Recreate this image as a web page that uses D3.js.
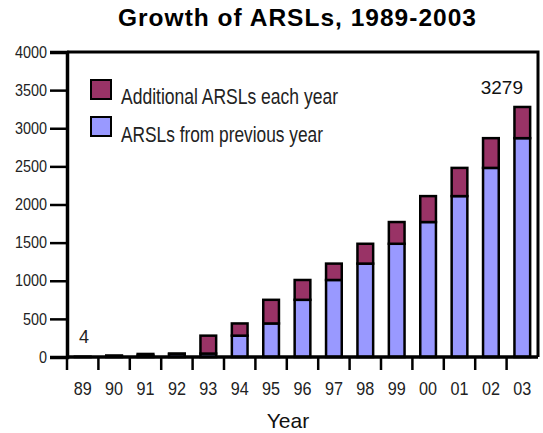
<!DOCTYPE html>
<html><head><meta charset="utf-8">
<script src="https://cdn.jsdelivr.net/npm/d3@7"></script>
<style>
body{margin:0;background:#fff;}
svg{display:block;}
text{font-family:"Liberation Sans",Arial,sans-serif;}
</style></head>
<body>
<svg id="chart" width="543" height="433"></svg>
<script>
const years = ["89","90","91","92","93","94","95","96","97","98","99","00","01","02","03"];
const previousYear = [0, 4, 20, 40, 45, 280, 440, 750, 1010, 1225, 1485, 1770, 2110, 2480, 2870];
const additional = [4, 16, 20, 5, 235, 160, 310, 260, 215, 260, 285, 340, 370, 390, 409];
const yTicks = [0, 500, 1000, 1500, 2000, 2500, 3000, 3500, 4000];
const seriesNames = ["Additional ARSLs each year", "ARSLs from previous year"];
const colors = ["#993366", "#9999FF"];

(function () {
const svg = d3.select("#chart");
const pl = 67, pr = 538, pt = 52, pb = 357;

const x = d3.scaleBand().domain(years).range([pl, pr]).paddingInner(0.5).paddingOuter(0.25);
const y = d3.scaleLinear().domain([0, 4000]).range([pb, pt]);

// title
svg.append("text").attr("x", 297).attr("y", 26).attr("text-anchor", "middle")
  .attr("font-weight", "bold").attr("font-size", 24.5)
  .attr("textLength", 358).attr("lengthAdjust", "spacing")
  .attr("fill", "#000").text("Growth of ARSLs, 1989-2003");

// bars
const rows = years.map((yr, i) => ({yr, prev: previousYear[i], add: additional[i]}));
const g = svg.append("g");
rows.forEach(d => {
  const bx = x(d.yr), bw = x.bandwidth();
  if (d.prev > 0) {
    g.append("rect").attr("x", bx).attr("width", bw)
      .attr("y", y(d.prev)).attr("height", y(0) - y(d.prev))
      .attr("fill", colors[1]).attr("stroke", "#000").attr("stroke-width", 2.5);
  }
  g.append("rect").attr("x", bx).attr("width", bw)
    .attr("y", y(d.prev + d.add)).attr("height", y(d.prev) - y(d.prev + d.add))
    .attr("fill", colors[0]).attr("stroke", "#000").attr("stroke-width", 2.5);
});

// frame (top and right)
svg.append("path").attr("d", `M${pl},${pt}H${pr}V${pb}`)
  .attr("fill", "none").attr("stroke", "#000").attr("stroke-width", 3);

// y axis
const yAxis = svg.append("g").attr("transform", `translate(${pl},0)`)
  .call(d3.axisLeft(y).tickValues(yTicks).tickSize(17).tickPadding(3).tickFormat(d3.format("d")));
yAxis.attr("font-family", null);
yAxis.select(".domain").attr("stroke-width", 3.5);
yAxis.selectAll(".tick line").attr("stroke-width", 2.5);
yAxis.selectAll("text").attr("font-size", 16).attr("fill", "#222")
  .attr("textLength", function () { return this.textContent.length * 8; })
  .attr("lengthAdjust", "spacingAndGlyphs");

// x axis
const xAxis = svg.append("g").attr("transform", `translate(0,${pb})`)
  .call(d3.axisBottom(x).tickSize(0).tickPadding(25));
xAxis.attr("font-family", null);
xAxis.select(".domain").attr("d", `M${pl},0H${pr}`).attr("stroke-width", 3.5);
xAxis.selectAll("text").attr("font-size", 19).attr("fill", "#222")
  .attr("textLength", 18).attr("lengthAdjust", "spacingAndGlyphs");
const half = x.step() * x.paddingInner() / 2;
const bounds = years.map(yr => x(yr) - half);
xAxis.selectAll(".bnd").data(bounds).enter().append("line").attr("class", "bnd")
  .attr("x1", d => d).attr("x2", d => d).attr("y1", 0).attr("y2", 13)
  .attr("stroke", "#000").attr("stroke-width", 2.5);

svg.append("text").attr("x", 288).attr("y", 428).attr("text-anchor", "middle")
  .attr("font-size", 21).attr("fill", "#111").text("Year");

// value labels
svg.append("text").attr("x", 79).attr("y", 343).attr("font-size", 18)
  .attr("fill", "#222").text(previousYear[0] + additional[0]);
const lastI = years.length - 1;
svg.append("text").attr("x", 523).attr("y", 94).attr("text-anchor", "end")
  .attr("font-size", 19).attr("fill", "#111").text(previousYear[lastI] + additional[lastI]);

// legend
const leg = svg.append("g");
[[0, 80, 104, 217], [1, 117, 142, 202]].forEach(([i, sy, ty, tl]) => {
  leg.append("rect").attr("x", 91).attr("y", sy).attr("width", 20).attr("height", 19)
    .attr("fill", colors[i]).attr("stroke", "#000").attr("stroke-width", 2);
  leg.append("text").attr("x", 121).attr("y", ty).attr("font-size", 22)
    .attr("textLength", tl).attr("lengthAdjust", "spacingAndGlyphs")
    .attr("fill", "#222").text(seriesNames[i]);
});
})();
</script>
</body></html>
